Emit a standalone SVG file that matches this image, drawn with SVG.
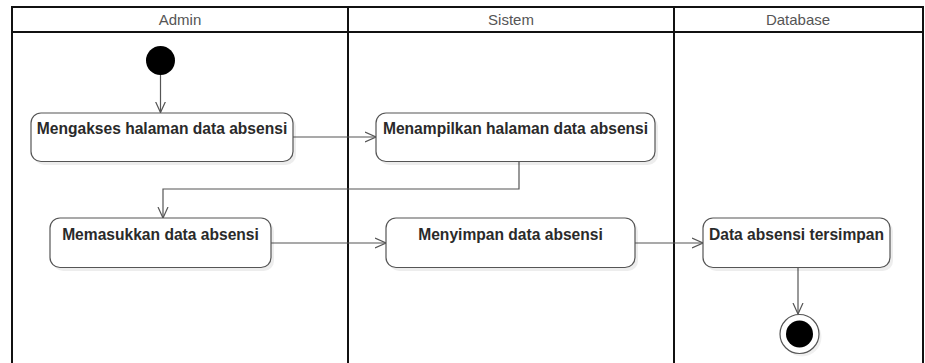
<svg xmlns="http://www.w3.org/2000/svg" width="925" height="363" viewBox="0 0 925 363">
  <style>
    .lane { fill: none; stroke: #111; stroke-width: 2; }
    .head { font-family: "Liberation Sans", Arial, sans-serif; font-size: 15px; fill: #555; text-anchor: middle; }
    .act { fill: #fff; stroke: #555; stroke-width: 1.2; }
    .shadow { fill: #000; opacity: 0.07; }
    .label { font-family: "Liberation Sans", Arial, sans-serif; font-size: 15.6px; font-weight: bold; fill: #2a2a2a; text-anchor: middle; }
    .flow { fill: none; stroke: #555; stroke-width: 1.2; marker-end: url(#open); }
  </style>
  <defs>
    <marker id="open" viewBox="0 0 12 12" refX="11" refY="6" markerWidth="12" markerHeight="12" markerUnits="userSpaceOnUse" orient="auto">
      <path d="M0,1 L11,6 L0,11" fill="none" stroke="#555" stroke-width="1.2"/>
    </marker>
  </defs>
  <rect width="925" height="363" fill="#fff"/>

  <!-- swimlanes -->
  <g id="lanes">
    <path class="lane" d="M12,370 V7 H923 V370 M12,32 H923 M348,7 V370 M674,7 V370"/>
    <text class="head" x="180" y="25">Admin</text>
    <text class="head" x="511" y="25">Sistem</text>
    <text class="head" x="798" y="25">Database</text>
  </g>

  <!-- connectors -->
  <g id="connectors">
    <path class="flow" d="M160.5,75 V112.5"/>
    <path class="flow" d="M293,137 H376"/>
    <path class="flow" d="M519,161.5 V189 H163 V218"/>
    <path class="flow" d="M271,243 H386"/>
    <path class="flow" d="M635,243 H703"/>
    <path class="flow" d="M798,268 V314"/>
  </g>

  <g id="start">
    <circle cx="160.5" cy="60.5" r="14.5" fill="#000"/>
  </g>

  <g id="mengakses">
    <rect class="shadow" x="34" y="116" width="262" height="49" rx="10"/>
    <rect class="act" x="31" y="113" width="262" height="48.5" rx="10"/>
    <text class="label" x="162" y="134">Mengakses halaman data absensi</text>
  </g>

  <g id="menampilkan">
    <rect class="shadow" x="379" y="116" width="279" height="49" rx="10"/>
    <rect class="act" x="376" y="113" width="279" height="48.5" rx="10"/>
    <text class="label" x="515.5" y="134">Menampilkan halaman data absensi</text>
  </g>

  <g id="memasukkan">
    <rect class="shadow" x="53" y="221" width="221" height="50" rx="10"/>
    <rect class="act" x="50" y="218" width="221" height="49.5" rx="10"/>
    <text class="label" x="160.5" y="240">Memasukkan data absensi</text>
  </g>

  <g id="menyimpan">
    <rect class="shadow" x="389" y="221" width="249" height="50" rx="10"/>
    <rect class="act" x="386" y="218" width="249" height="49.5" rx="10"/>
    <text class="label" x="510.5" y="240">Menyimpan data absensi</text>
  </g>

  <g id="tersimpan">
    <rect class="shadow" x="706" y="221" width="187" height="50" rx="10"/>
    <rect class="act" x="703" y="218" width="187" height="49.5" rx="10"/>
    <text class="label" x="796.5" y="240">Data absensi tersimpan</text>
  </g>

  <g id="end">
    <circle cx="802" cy="337" r="19.5" fill="#000" opacity="0.06"/>
    <circle cx="799.5" cy="334" r="19.5" fill="#fff" stroke="#555" stroke-width="1.2"/>
    <circle cx="799.5" cy="334" r="13.5" fill="#000"/>
  </g>
</svg>
